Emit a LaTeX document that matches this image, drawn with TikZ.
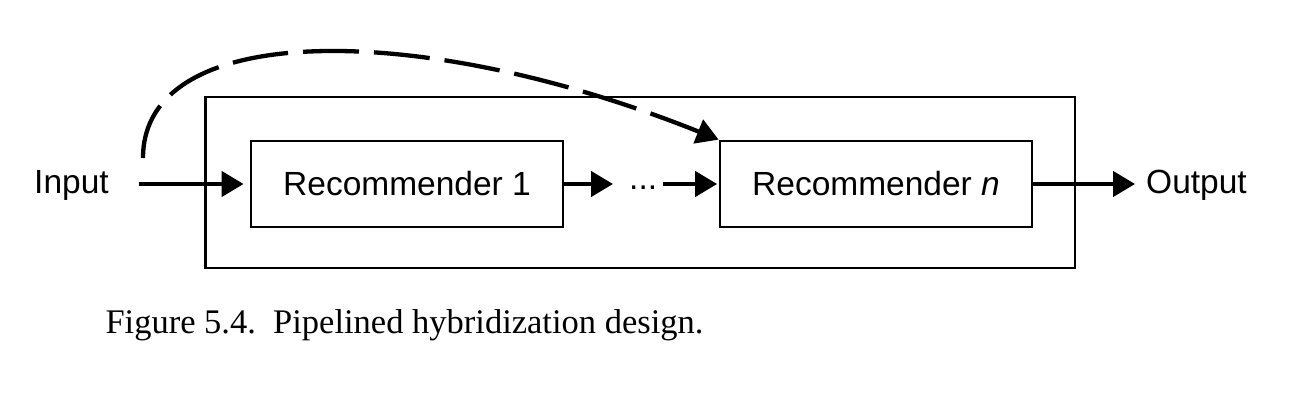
\documentclass[tikz,border=0pt]{standalone}
\usepackage{fontspec}
\setmainfont{Liberation Serif}
\newfontfamily\arial{Liberation Sans}
\usetikzlibrary{arrows.meta}
\begin{document}
\begin{tikzpicture}[x=1pt,y=-1pt,
  box/.style={draw, line width=2.7pt, inner sep=0pt},
  lbl/.style={font=\arial\fontsize{33.5pt}{40pt}\selectfont, inner sep=0pt},
  arr/.style={line width=4.3pt, -{Triangle[length=22pt,width=25pt]}},
  ]
\useasboundingbox (0,0) rectangle (1305,403);
\node[box, minimum width=869.5pt, minimum height=171pt] (outer) at (640.2,182.5) {};
\node[box, lbl, minimum width=312pt, minimum height=86pt] (rec1) at (407,184) {\raisebox{1.5pt}{Recommender 1}};
\node[box, lbl, minimum width=312pt, minimum height=86pt] (recn) at (876,184) {\raisebox{1.5pt}{Recommender \textit{n}}};
\node[lbl, anchor=base west] (input) at (34,193.5) {Input};
\node[lbl, anchor=base west] (output) at (1146,193.5) {Output};
\node[lbl, anchor=base west] (dots) at (629,189.5) {...};
\node[font=\fontsize{34.5pt}{40pt}\selectfont, inner sep=0pt, anchor=base west] (caption) at (105.3,333.3) {Figure 5.4.\hspace{0.5em}Pipelined hybridization design.};
\coordinate (dstart) at (143,158);
\draw[arr, shorten <=30.5pt, shorten >=6pt] (input.east |- rec1.west) -- (rec1.west);
\draw[arr, shorten >=16pt] (rec1.east) -- (rec1.east -| dots.west);
\draw[arr, shorten <=6pt, shorten >=1.5pt] (dots.east |- recn.west) -- (recn.west);
\draw[arr, shorten >=11pt] (recn.east) -- (output.west |- recn.east);
\draw[arr, dash pattern=on 56pt off 15pt] (dstart) .. controls (143,20) and (420,20) .. (recn.north west);
\end{tikzpicture}
\end{document}
